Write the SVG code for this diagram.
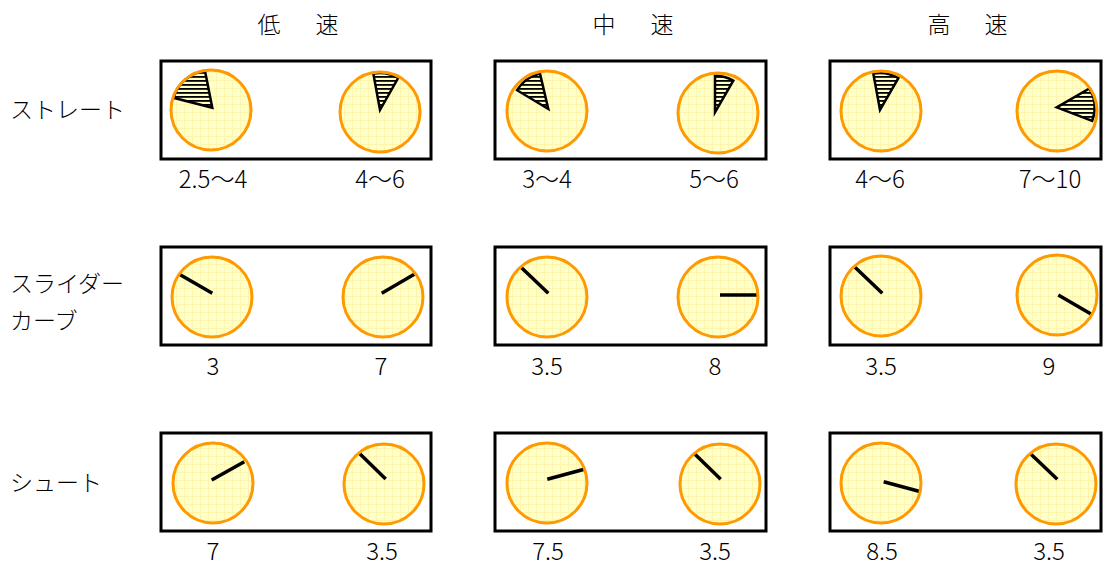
<svg xmlns="http://www.w3.org/2000/svg" width="1103" height="565" viewBox="0 0 1103 565">
<style>
.box{fill:#fff;stroke:#000;stroke-width:3}
.face{fill:url(#grid);stroke:none}
.rim{fill:none;stroke:#FF9900;stroke-width:3}
.hand{stroke:#000;stroke-width:3.5;stroke-linecap:butt}
.wedge{fill:url(#hatch);stroke:#000;stroke-width:2.5;stroke-linejoin:miter}
.hd{font-family:"Noto Sans CJK JP","Noto Sans CJK SC",sans-serif;font-size:23px;fill:#000;text-anchor:middle;font-weight:300}
.rl{font-family:"Noto Sans CJK JP","Noto Sans CJK SC",sans-serif;font-size:23px;fill:#000;font-weight:300}
.num{font-family:"Noto Sans CJK JP","Noto Sans CJK SC",sans-serif;font-size:24px;fill:#000;text-anchor:middle;font-weight:300}
</style>
<defs>
<pattern id="grid" patternUnits="userSpaceOnUse" width="8" height="8">
<rect width="8" height="8" fill="#FFFFC8"/>
<path d="M0 0.5H8M0.5 0V8" stroke="#FFF4AE" stroke-width="1"/>
</pattern>
<pattern id="hatch" patternUnits="userSpaceOnUse" width="8" height="4">
<rect width="8" height="4" fill="#FFFFC8"/>
<rect width="8" height="1.8" fill="#000"/>
</pattern>
</defs>
<rect width="1103" height="565" fill="#fff"/>
<g id="headers">
<text class="hd" x="269" y="33">低</text><text class="hd" x="327" y="33">速</text>
<text class="hd" x="604" y="33">中</text><text class="hd" x="662" y="33">速</text>
<text class="hd" x="939" y="33">高</text><text class="hd" x="996" y="33">速</text>
</g>
<g id="row-labels">
<text class="rl" x="10" y="118">ストレート</text>
<text class="rl" x="10" y="292">スライダー</text>
<text class="rl" x="10" y="329">カーブ</text>
<text class="rl" x="10" y="491">シュート</text>
</g>
<g id="straight-low">
<rect class="box" x="161" y="61" width="270" height="98"/>
<circle class="face" cx="211" cy="110" r="40"/>
<path class="wedge" d="M212.3 107.7 L205 71 A37.5 37.5 0 0 0 173.5 97.8 Z"/>
<circle class="rim" cx="211" cy="110" r="40"/>
<circle class="face" cx="380" cy="112" r="40"/>
<path class="wedge" d="M380 110 L373.3 73.6 A37 37 0 0 1 398.3 77.8 Z"/>
<circle class="rim" cx="380" cy="112" r="40"/>
</g>
<g id="straight-mid">
<rect class="box" x="495" y="61" width="271" height="98"/>
<circle class="face" cx="547" cy="111" r="40"/>
<path class="wedge" d="M548.3 109 L540 73.6 A36.5 36.5 0 0 0 517 90.2 Z"/>
<circle class="rim" cx="547" cy="111" r="40"/>
<circle class="face" cx="718" cy="113" r="40"/>
<path class="wedge" d="M715 112.3 L715 75.7 A36.6 36.6 0 0 1 733.3 80.6 Z"/>
<circle class="rim" cx="718" cy="113" r="40"/>
</g>
<g id="straight-high">
<rect class="box" x="830" y="61" width="271" height="98"/>
<circle class="face" cx="881" cy="111" r="40"/>
<path class="wedge" d="M880 110 L873.3 73.6 A37 37 0 0 1 898.5 78 Z"/>
<circle class="rim" cx="881" cy="111" r="40"/>
<circle class="face" cx="1057" cy="111" r="40"/>
<path class="wedge" d="M1056.7 107.3 L1089.5 88.4 A38 38 0 0 1 1092.2 120.8 Z"/>
<circle class="rim" cx="1057" cy="111" r="40"/>
</g>
<g id="slider-low">
<rect class="box" x="161" y="247" width="270" height="98"/>
<circle class="face" cx="212" cy="297" r="40"/>
<line class="hand" x1="212.3" y1="293.3" x2="179.3" y2="274.3"/>
<circle class="rim" cx="212" cy="297" r="40"/>
<circle class="face" cx="383" cy="297" r="40"/>
<line class="hand" x1="381.7" y1="293.3" x2="414.3" y2="274.3"/>
<circle class="rim" cx="383" cy="297" r="40"/>
</g>
<g id="slider-mid">
<rect class="box" x="495" y="247" width="271" height="98"/>
<circle class="face" cx="547" cy="297" r="40"/>
<line class="hand" x1="548.3" y1="293.3" x2="521" y2="267.3"/>
<circle class="rim" cx="547" cy="297" r="40"/>
<circle class="face" cx="718" cy="297" r="40"/>
<line class="hand" x1="720" y1="295" x2="757.7" y2="295"/>
<circle class="rim" cx="718" cy="297" r="40"/>
</g>
<g id="slider-high">
<rect class="box" x="830" y="247" width="271" height="98"/>
<circle class="face" cx="881" cy="296" r="40"/>
<line class="hand" x1="882.3" y1="293.3" x2="855" y2="267.3"/>
<circle class="rim" cx="881" cy="296" r="40"/>
<circle class="face" cx="1057" cy="295" r="40"/>
<line class="hand" x1="1058.3" y1="295" x2="1091" y2="314"/>
<circle class="rim" cx="1057" cy="295" r="40"/>
</g>
<g id="shoot-low">
<rect class="box" x="161" y="433" width="270" height="98"/>
<circle class="face" cx="213" cy="483" r="40"/>
<line class="hand" x1="211.7" y1="480" x2="244.3" y2="461.7"/>
<circle class="rim" cx="213" cy="483" r="40"/>
<circle class="face" cx="384" cy="484" r="40"/>
<line class="hand" x1="385.7" y1="479" x2="359.3" y2="453.3"/>
<circle class="rim" cx="384" cy="484" r="40"/>
</g>
<g id="shoot-mid">
<rect class="box" x="495" y="433" width="271" height="98"/>
<circle class="face" cx="547" cy="483" r="40"/>
<line class="hand" x1="547.3" y1="479.3" x2="584.3" y2="469.3"/>
<circle class="rim" cx="547" cy="483" r="40"/>
<circle class="face" cx="720" cy="484" r="40"/>
<line class="hand" x1="720.7" y1="479.3" x2="694" y2="453.3"/>
<circle class="rim" cx="720" cy="484" r="40"/>
</g>
<g id="shoot-high">
<rect class="box" x="830" y="433" width="271" height="98"/>
<circle class="face" cx="881" cy="483" r="40"/>
<line class="hand" x1="883.7" y1="481.7" x2="920.7" y2="491.7"/>
<circle class="rim" cx="881" cy="483" r="40"/>
<circle class="face" cx="1056" cy="484" r="40"/>
<line class="hand" x1="1057.3" y1="479.3" x2="1030" y2="453.3"/>
<circle class="rim" cx="1056" cy="484" r="40"/>
</g>
<g id="values">
<text class="num" x="213" y="188">2.5～4</text>
<text class="num" x="380" y="188">4～6</text>
<text class="num" x="547" y="188">3～4</text>
<text class="num" x="714" y="188">5～6</text>
<text class="num" x="880" y="188">4～6</text>
<text class="num" x="1050" y="188">7～10</text>
<text class="num" x="213" y="375">3</text>
<text class="num" x="381" y="375">7</text>
<text class="num" x="547" y="375">3.5</text>
<text class="num" x="715" y="375">8</text>
<text class="num" x="881" y="375">3.5</text>
<text class="num" x="1049" y="375">9</text>
<text class="num" x="213" y="560">7</text>
<text class="num" x="382" y="560">3.5</text>
<text class="num" x="548" y="560">7.5</text>
<text class="num" x="715" y="560">3.5</text>
<text class="num" x="882" y="560">8.5</text>
<text class="num" x="1049" y="560">3.5</text>
</g>
</svg>
